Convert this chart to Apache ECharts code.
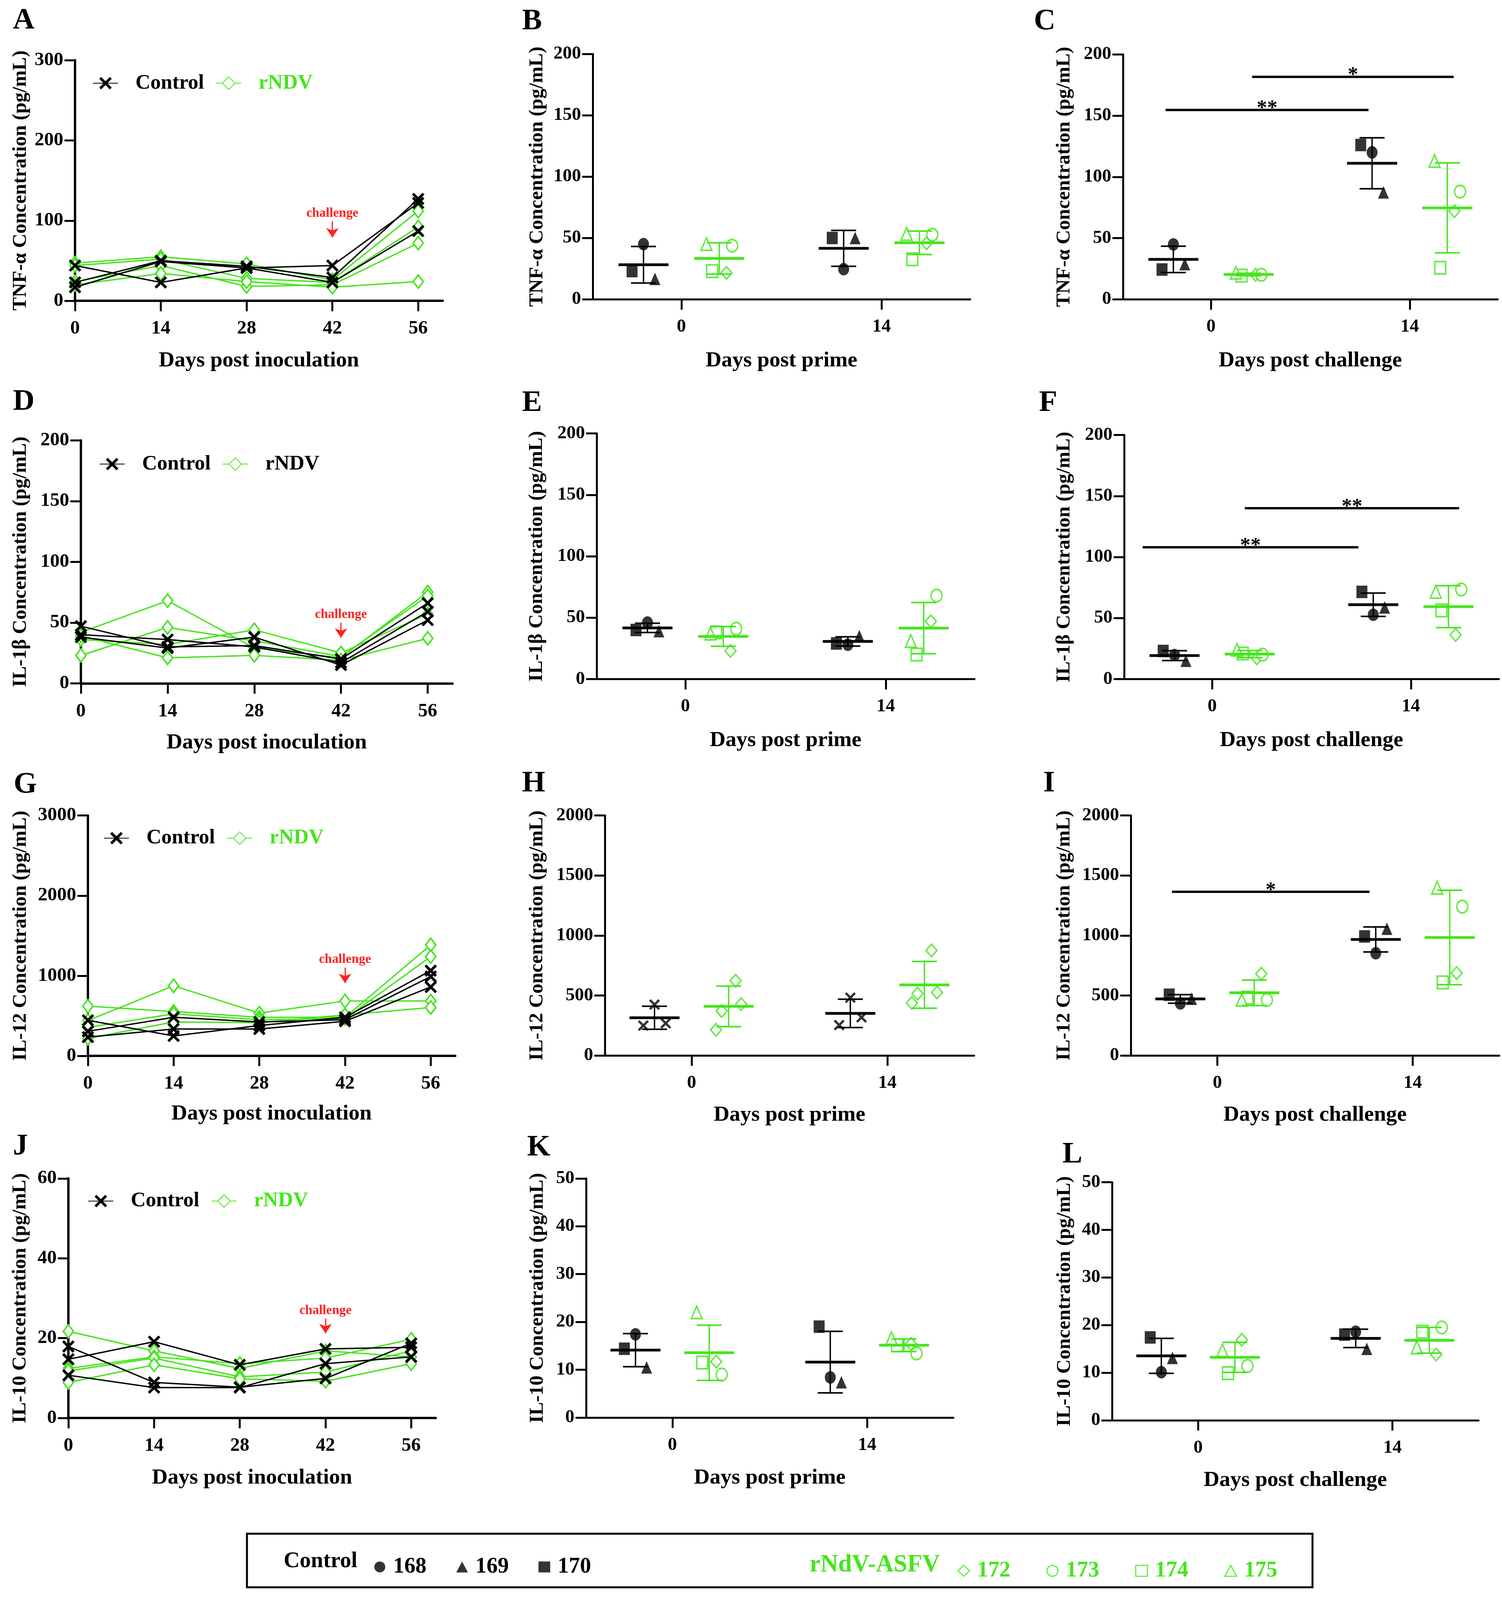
<!DOCTYPE html>
<html>
<head>
<meta charset="utf-8">
<title>Cytokine kinetics</title>
<script src="https://cdn.jsdelivr.net/npm/echarts@6/dist/echarts.min.js"></script>
<style>
  html, body { margin: 0; padding: 0; background: #fff; overflow: hidden; }
  #chart { width: 3844px; height: 4175px; }
</style>
</head>
<body>
<div id="chart"></div>
<script>
// ---- data ----
const days = [0, 14, 28, 42, 56];
const groupDays = [0, 14];
const controlIds = ['168', '169', '170'];
const rndvIds = ['172', '173', '174', '175'];

// A: TNF-a, one row per animal, values at days 0..56
const tnfCtrlLines = [[44, 23, 41, 44, 122], [23, 50, 43, 29, 127], [17, 49, 41, 23, 87]];
const tnfRndvLines = [[47, 55, 46, 26, 112], [44, 52, 28, 23, 92], [24, 44, 18, 20, 72], [20, 34, 24, 17, 24]];
// D: IL-1b
const il1CtrlLines = [[47, 30, 31, 20, 66], [40, 36, 30, 17, 59], [38, 29, 38, 15, 52]];
const il1RndvLines = [[42, 68, 29, 21, 75], [23, 46, 35, 22, 72], [36, 32, 44, 25, 57], [39, 21, 23, 19, 37]];
// G: IL-12
const il12CtrlLines = [[443, 248, 379, 481, 1063], [306, 481, 422, 451, 990], [233, 335, 335, 431, 859]];
const il12RndvLines = [[440, 874, 533, 684, 684], [620, 553, 481, 481, 1384], [355, 524, 451, 466, 1238], [218, 422, 414, 510, 603]];
// J: IL-10
const il10CtrlLines = [[14.7, 19.1, 13.3, 17.3, 17.7], [17.9, 8.9, 7.7, 9.9, 18.7], [10.7, 7.6, 7.6, 13.6, 15.3]];
const il10RndvLines = [[21.7, 16.8, 12.4, 16.8, 15.3], [12.4, 15.3, 13.6, 15, 19.7], [11.8, 15, 10.3, 11.5, 16.8], [8.9, 13.3, 9.8, 9.2, 13.6]];

// dot panels: one row per animal, [day 0, day 14]
const tnfPrimeCtrl = [[45, 24.6], [16.6, 50], [23, 50]];
const tnfPrimeRndv = [[21.6, 45.7], [43.7, 52.7], [23, 32.7], [45, 53.3]];
const tnfChalCtrl = [[44.8, 120], [28.7, 87.3], [24.3, 126]];
const tnfChalRndv = [[20, 72], [20, 88], [19.3, 25.7], [21.7, 113]];
const il1PrimeCtrl = [[46, 28], [39, 35], [40, 29]];
const il1PrimeRndv = [[23, 47], [41, 68], [38, 20], [37, 31]];
const il1ChalCtrl = [[19.7, 52.7], [15, 58.7], [23, 71.4]];
const il1ChalRndv = [[17, 36.2], [20, 73.4], [21, 56.3], [24, 71.4]];
const il12PrimeCtrl = [[424, 482], [268, 317], [249, 253]];
const il12PrimeRndv = [[623, 875], [428, 525], [370, 516], [214, 438]];
const il12ChalCtrl = [[434, 852], [473, 1056], [506, 992]];
const il12ChalRndv = [[681, 687], [463, 1241], [482, 609], [463, 1397]];
const il10PrimeCtrl = [[17.4, 8.4], [10.5, 7.4], [14.4, 19]];
const il10PrimeRndv = [[11.7, 15.4], [9, 13.4], [11.5, 15.1], [22, 16.6]];
const il10ChalCtrl = [[10.1, 18.6], [13.1, 15], [17.4, 18]];
const il10ChalRndv = [[16.9, 13.8], [11.4, 19.5], [9.9, 18.6], [14.7, 15.3]];

// significance bars: [from day, to day, height, stars]
const sigTnf = [[-3.2, 11.1, 154.6, '**'], [2.9, 17.1, 181.7, '*']];
const sigIl1 = [[-4.9, 10.3, 108, '**'], [2.3, 17.4, 140, '**']];
const sigIl12 = [[-3.25, 10.9, 1364, '*']];

// ---- page size: layout below is in 3844x4175 units, scaled to the real viewport ----
const W = window.innerWidth || 3844;
const H = window.innerHeight || 4175;
const sx = W / 3844, sy = H / 4175;
const px = (v) => v * sx;
const py = (v) => v * sy;
const fs = (v) => v * Math.min(sx, sy);
const chartDom = document.getElementById('chart');
chartDom.style.width = W + 'px';
chartDom.style.height = H + 'px';

// ---- styling ----
const FONT = '"Liberation Serif", "DejaVu Serif", serif';
const GREEN = '#45e51c';
const RED = '#ff2020';
const X_SYMBOL = 'path://M3,0L10,7L17,0L20,3L13,10L20,17L17,20L10,13L3,20L0,17L7,10L0,3Z';
const ctrlSymbols = ['circle', 'triangle', 'rect'];
const rndvSymbols = ['diamond', 'circle', 'rect', 'triangle'];
const ctrlJitter = [0, 0.8, -0.8];
const rndvJitter = [0.5, 0.9, -0.5, -0.9];
const groupShift = 2.65;

const linePanels = [
  { grid: [192, 157, 941, 628], ymax: 300, yint: 100,
    yname: 'TNF-α Concentration (pg/mL)', yGap: 114, xGap: 128, ctrl: tnfCtrlLines, rndv: tnfRndvLines,
    arrow: [99, 79], legend: [237, 190], greenText: true },
  { grid: [207, 1149, 951, 634], ymax: 200, yint: 50,
    yname: 'IL-1β Concentration (pg/mL)', yGap: 129, xGap: 127, ctrl: il1CtrlLines, rndv: il1RndvLines,
    arrow: [50, 37.5], legend: [254, 1184], greenText: false },
  { grid: [225, 2128, 940, 627], ymax: 3000, yint: 1000,
    yname: 'IL-12 Concentration (pg/mL)', yGap: 147, xGap: 123, ctrl: il12CtrlLines, rndv: il12RndvLines,
    arrow: [1101, 908], legend: [265, 2160], greenText: true },
  { grid: [175, 3075, 940, 625], ymax: 60, yint: 20,
    yname: 'IL-10 Concentration (pg/mL)', yGap: 98, xGap: 128, ctrl: il10CtrlLines, rndv: il10RndvLines,
    arrow: [24.9, 21.2], legend: [225, 3107], greenText: true }
];

const dotPanels = [
  { grid: [1517, 141, 966, 640], ymax: 200, yint: 50, yname: 'TNF-α Concentration (pg/mL)',
    yGap: 117, xGap: 132, xname: 'Days post prime', ctrl: tnfPrimeCtrl, rndv: tnfPrimeRndv, sig: [] },
  { grid: [2874, 142, 959, 639], ymax: 200, yint: 50, yname: 'TNF-α Concentration (pg/mL)',
    yGap: 125, xGap: 132, xname: 'Days post challenge', ctrl: tnfChalCtrl, rndv: tnfChalRndv, sig: sigTnf },
  { grid: [1527, 1131, 967, 641], ymax: 200, yint: 50, yname: 'IL-1β Concentration (pg/mL)',
    yGap: 128, xGap: 132, xname: 'Days post prime', ctrl: il1PrimeCtrl, rndv: il1PrimeRndv, sig: [] },
  { grid: [2877, 1135, 959, 637], ymax: 200, yint: 50, yname: 'IL-1β Concentration (pg/mL)',
    yGap: 128, xGap: 132, xname: 'Days post challenge', ctrl: il1ChalCtrl, rndv: il1ChalRndv, sig: sigIl1 },
  { grid: [1548, 2128, 945, 626], ymax: 2000, yint: 500, yname: 'IL-12 Concentration (pg/mL)',
    yGap: 148, xGap: 127, xname: 'Days post prime', ctrl: il12PrimeCtrl, rndv: il12PrimeRndv, sig: [], plain: true },
  { grid: [2894, 2128, 943, 626], ymax: 2000, yint: 500, yname: 'IL-12 Concentration (pg/mL)',
    yGap: 145, xGap: 127, xname: 'Days post challenge', ctrl: il12ChalCtrl, rndv: il12ChalRndv, sig: sigIl12 },
  { grid: [1500, 3075, 940, 624], ymax: 50, yint: 10, yname: 'IL-10 Concentration (pg/mL)',
    yGap: 99, xGap: 129, xname: 'Days post prime', ctrl: il10PrimeCtrl, rndv: il10PrimeRndv, sig: [] },
  { grid: [2846, 3085, 938, 621], ymax: 50, yint: 10, yname: 'IL-10 Concentration (pg/mL)',
    yGap: 96, xGap: 128, xname: 'Days post challenge', ctrl: il10ChalCtrl, rndv: il10ChalRndv, sig: [] }
];

const letters = [
  ['A', 33, 15], ['B', 1336, 17], ['C', 2646, 17],
  ['D', 33, 1010], ['E', 1336, 1013], ['F', 2659, 1013],
  ['G', 35, 2009], ['H', 1336, 2006], ['I', 2670, 2006],
  ['J', 33, 2953], ['K', 1349, 2956], ['L', 2719, 2974]
];

const grids = [], xAxes = [], yAxes = [], series = [], legends = [];

function txt(size) {
  return { color: '#000', fontSize: fs(size), fontWeight: 'bold', fontFamily: FONT };
}

function addAxes(gi, p, xmin, xmax, ticks, xname, labelSize, axisWidth) {
  const [l, t, w, h] = p.grid;
  grids.push({ left: px(l), top: py(t), width: px(w), height: py(h), containLabel: false, outerBoundsMode: 'none' });
  xAxes.push({
    gridIndex: gi, type: 'value', min: xmin, max: xmax,
    axisLine: { show: true, onZero: false, lineStyle: { color: '#000', width: axisWidth } },
    axisTick: { show: true, length: py(27), lineStyle: { color: '#000', width: 5 }, customValues: ticks },
    axisLabel: Object.assign({ show: true, customValues: ticks, margin: py(48), formatter: (v) => String(v) }, txt(labelSize)),
    splitLine: { show: false },
    name: xname, nameLocation: 'middle', nameGap: py(p.xGap), nameTextStyle: txt(57)
  });
  yAxes.push({
    gridIndex: gi, type: 'value', min: 0, max: p.ymax, interval: p.yint,
    axisLine: { show: true, onZero: false, lineStyle: { color: '#000', width: axisWidth } },
    axisTick: { show: true, length: px(27), lineStyle: { color: '#000', width: 5 } },
    axisLabel: Object.assign({ show: true, margin: px(30), formatter: (v) => String(v) }, txt(labelSize)),
    splitLine: { show: false },
    name: p.yname, nameLocation: 'middle', nameGap: px(p.yGap), nameTextStyle: txt(52)
  });
}

// line panels (A, D, G, J)
linePanels.forEach((p) => {
  const gi = grids.length;
  addAxes(gi, p, 0, 60, days, 'Days post inoculation', 50, 6);
  p.rndv.forEach((vals) => {
    series.push({
      type: 'line', name: 'rNDV', xAxisIndex: gi, yAxisIndex: gi, z: 2,
      data: days.map((d, i) => [d, vals[i]]),
      symbol: 'diamond', symbolSize: [26, 34],
      lineStyle: { color: GREEN, width: 3.5 },
      itemStyle: { color: '#fff', borderColor: GREEN, borderWidth: 4 },
      emphasis: { disabled: true }
    });
  });
  p.ctrl.forEach((vals, k) => {
    const s = {
      type: 'line', name: 'Control', xAxisIndex: gi, yAxisIndex: gi, z: 3,
      data: days.map((d, i) => [d, vals[i]]),
      symbol: X_SYMBOL, symbolSize: 32,
      lineStyle: { color: '#000', width: 3.5 },
      itemStyle: { color: '#000' },
      emphasis: { disabled: true }
    };
    if (k === 0) {
      s.markLine = {
        silent: true, animation: false, symbol: ['none', 'arrow'], symbolSize: 24,
        lineStyle: { color: RED, width: 3, type: 'solid' },
        label: Object.assign({ show: true, position: 'start', formatter: 'challenge', distance: 4 }, txt(34), { color: RED }),
        emphasis: { disabled: true },
        data: [[{ coord: [42, p.arrow[0]] }, { coord: [42, p.arrow[1]] }]]
      };
    }
    series.push(s);
  });
  legends.push({
    left: px(p.legend[0]), top: py(p.legend[1]), padding: 0, orient: 'horizontal',
    itemWidth: px(64), itemHeight: 40, itemGap: px(30), selectedMode: false,
    formatter: '   {name}',
    textStyle: txt(54),
    data: [
      { name: 'Control', textStyle: { color: '#000' } },
      { name: 'rNDV', textStyle: { color: p.greenText ? GREEN : '#000' } }
    ]
  });
});

function meanSd(arr) {
  const m = arr.reduce((a, b) => a + b, 0) / arr.length;
  const v = arr.reduce((a, b) => a + (b - m) * (b - m), 0) / (arr.length - 1);
  return [m, Math.sqrt(v)];
}

function errorBars(params, api) {
  const x = api.value(0), m = api.value(1), sd = api.value(2);
  const col = api.value(3) === 0 ? '#000' : GREEN;
  const c = api.coord([x, m]), t = api.coord([x, m + sd]), b = api.coord([x, m - sd]);
  const cap = px(32), half = px(64);
  return {
    type: 'group', children: [
      { type: 'line', shape: { x1: c[0], y1: t[1], x2: c[0], y2: b[1] }, style: { stroke: col, lineWidth: 3.5 } },
      { type: 'line', shape: { x1: c[0] - cap, y1: t[1], x2: c[0] + cap, y2: t[1] }, style: { stroke: col, lineWidth: 4 } },
      { type: 'line', shape: { x1: c[0] - cap, y1: b[1], x2: c[0] + cap, y2: b[1] }, style: { stroke: col, lineWidth: 4 } },
      { type: 'line', shape: { x1: c[0] - half, y1: c[1], x2: c[0] + half, y2: c[1] }, style: { stroke: col, lineWidth: 7 } }
    ]
  };
}

function sigBars(params, api, labels) {
  const a = api.coord([api.value(0), api.value(2)]);
  const b = api.coord([api.value(1), api.value(2)]);
  return {
    type: 'group', children: [
      { type: 'line', shape: { x1: a[0], y1: a[1], x2: b[0], y2: b[1] }, style: { stroke: '#000', lineWidth: 6 } },
      { type: 'text', style: { text: labels[params.dataIndex], x: (a[0] + b[0]) / 2, y: a[1] + py(24), align: 'center',
        verticalAlign: 'bottom', fill: '#000', fontSize: fs(54), fontWeight: 'bold', fontFamily: FONT } }
    ]
  };
}

// dot panels (B, C, E, F, H, I, K, L)
dotPanels.forEach((p, pi) => {
  const gi = grids.length;
  addAxes(gi, p, -6.2, 20.2, groupDays, p.xname, 48, 5);
  [[p.ctrl, controlIds, ctrlSymbols, ctrlJitter, -groupShift, true],
   [p.rndv, rndvIds, rndvSymbols, rndvJitter, groupShift, false]].forEach(([vals, ids, syms, jit, shift, isCtrl]) => {
    ids.forEach((id, k) => {
      const sym = p.plain ? (isCtrl ? X_SYMBOL : 'diamond') : syms[k];
      series.push({
        type: 'scatter', name: p.plain ? 'H' + id : id, xAxisIndex: gi, yAxisIndex: gi, z: 2,
        symbol: sym, symbolSize: sym === X_SYMBOL ? 28 : [28, 32],
        itemStyle: isCtrl ? { color: '#000' } : { color: '#fff', borderColor: GREEN, borderWidth: 4 },
        emphasis: { disabled: true },
        data: groupDays.map((d, j) => [d + shift + jit[k], vals[k][j]])
      });
    });
  });
  const bars = [];
  groupDays.forEach((d, j) => {
    const c = meanSd(p.ctrl.map((r) => r[j]));
    const r = meanSd(p.rndv.map((row) => row[j]));
    bars.push([d - groupShift, c[0], c[1], 0]);
    bars.push([d + groupShift, r[0], r[1], 1]);
  });
  series.push({
    type: 'custom', name: 'sd' + pi, xAxisIndex: gi, yAxisIndex: gi, z: 4, silent: true,
    renderItem: errorBars, encode: { x: 0, y: 1 }, data: bars
  });
  if (p.sig.length) {
    const labels = p.sig.map((s) => s[3]);
    series.push({
      type: 'custom', name: 'sig' + pi, xAxisIndex: gi, yAxisIndex: gi, z: 4, silent: true,
      renderItem: (params, api) => sigBars(params, api, labels),
      encode: { x: 0, y: 2 }, data: p.sig.map((s) => [s[0], s[1], s[2]])
    });
  }
});

// bottom key
legends.push({
  left: px(958), top: py(4074) - 14, padding: 0, itemWidth: 30, itemHeight: 28, itemGap: px(76), selectedMode: false,
  formatter: ' {name}', textStyle: txt(58), itemStyle: { borderWidth: 0 },
  data: controlIds
});
legends.push({
  left: px(2450), top: py(4084) - 14, padding: 0, itemWidth: 30, itemHeight: 28, itemGap: px(92), selectedMode: false,
  formatter: ' {name}', textStyle: Object.assign(txt(58), { color: GREEN }), itemStyle: { borderWidth: 3 },
  data: rndvIds
});

const graphic = letters.map(([t, x, y]) => ({
  type: 'text', x: px(x), y: py(y), silent: true,
  style: { text: t, fill: '#000', fontSize: fs(78), fontWeight: 'bold', fontFamily: FONT, verticalAlign: 'top' }
}));
graphic.push({ type: 'rect', silent: true, shape: { x: px(632), y: py(4002), width: px(2727), height: py(140) },
  style: { fill: 'none', stroke: '#000', lineWidth: 5 } });
graphic.push({ type: 'text', x: px(726), y: py(4074), silent: true,
  style: { text: 'Control', fill: '#000', fontSize: fs(58), fontWeight: 'bold', fontFamily: FONT, verticalAlign: 'middle' } });
graphic.push({ type: 'text', x: px(2072), y: py(4084), silent: true,
  style: { text: 'rNdV-ASFV', fill: GREEN, fontSize: fs(64), fontWeight: 'bold', fontFamily: FONT, verticalAlign: 'middle' } });

const chart = echarts.init(chartDom, null, { renderer: 'canvas' });
chart.setOption({
  animation: false,
  backgroundColor: '#fff',
  grid: grids,
  xAxis: xAxes,
  yAxis: yAxes,
  legend: legends,
  series: series,
  graphic: graphic
});
</script>
</body>
</html>
